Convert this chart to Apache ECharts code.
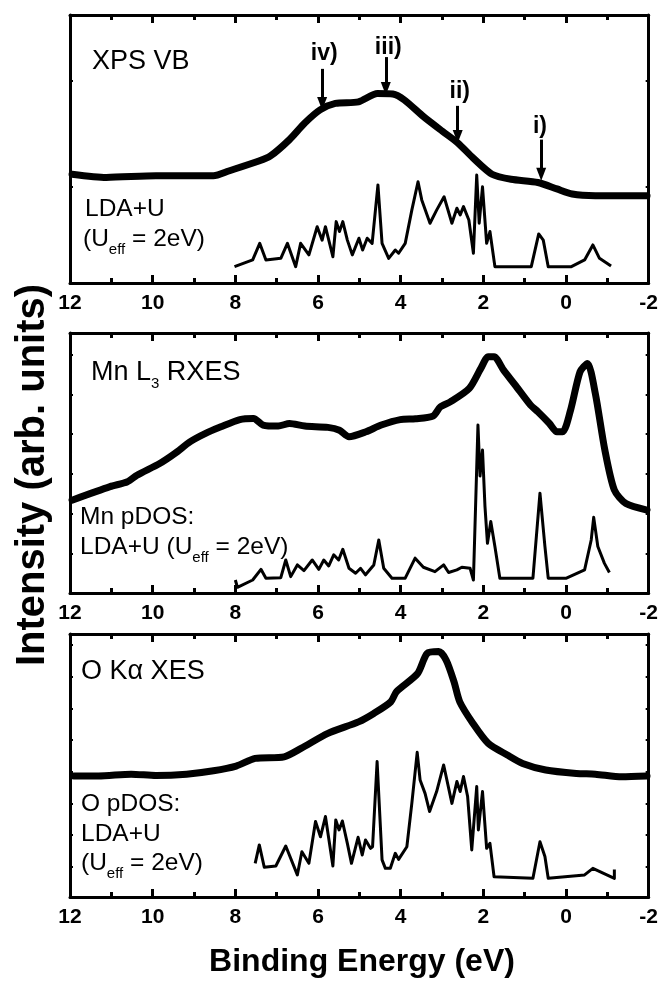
<!DOCTYPE html>
<html><head><meta charset="utf-8">
<script src="https://cdn.jsdelivr.net/npm/echarts@6/dist/echarts.min.js"></script>
<style>html,body{margin:0;padding:0;background:#fff}#c{width:661px;height:982px}</style>
</head><body><div id="c"></div>
<script>
// ---- data: [binding energy (eV), intensity (arb. units)] ----
const xpsVB = [[11.95,40.6],[11.12,39.4],[9.92,40.0],[8.53,40.0],[8.16,41.8],[7.43,45.5],[7.15,47.4],[6.69,53.5],[6.32,59.7],[5.95,64.6],[5.58,67.0],[5.02,67.6],[4.56,70.7],[4.19,70.5],[3.91,68.3],[3.45,62.1],[2.99,56.6],[2.62,52.3],[2.25,46.7],[1.79,40.6],[1.33,38.7],[0.68,37.5],[0.22,35.1],[-0.15,33.2],[-0.71,32.6],[-1.96,32.6]];
const xpsLDAU = [[8.02,6.1],[7.58,8.6],[7.41,14.8],[7.26,8.6],[6.90,9.2],[6.74,14.8],[6.54,6.1],[6.42,14.8],[6.22,10.5],[6.02,21.0],[5.90,16.0],[5.82,21.0],[5.64,9.8],[5.56,22.9],[5.48,19.2],[5.40,22.9],[5.29,16.0],[5.17,10.5],[5.01,16.7],[4.92,12.3],[4.81,16.7],[4.69,14.8],[4.55,36.6],[4.45,14.8],[4.29,9.2],[4.13,12.3],[4.05,11.1],[3.89,14.8],[3.73,27.2],[3.58,37.8],[3.49,31.0],[3.29,22.3],[3.13,27.2],[2.95,32.2],[2.76,22.3],[2.64,27.9],[2.56,25.4],[2.48,28.5],[2.35,23.5],[2.24,11.1],[2.16,40.3],[2.10,22.3],[2.02,35.9],[1.92,14.8],[1.84,19.2],[1.72,6.1],[0.84,6.1],[0.66,18.3],[0.55,16.0],[0.43,6.1],[-0.13,6.1],[-0.45,8.6],[-0.65,14.2],[-0.81,9.2],[-1.09,6.3]];
const mnRXES = [[11.95,35.7],[11.03,40.9],[10.61,42.8],[10.38,45.3],[9.83,49.8],[9.46,53.7],[9.09,58.2],[8.72,61.4],[8.35,63.9],[7.89,66.7],[7.56,67.1],[7.33,64.6],[6.96,64.2],[6.69,65.2],[6.32,64.2],[5.76,63.7],[5.48,62.6],[5.25,60.1],[4.84,62.0],[4.47,64.6],[4.01,66.7],[3.64,67.0],[3.22,68.0],[3.04,71.6],[2.80,73.5],[2.34,78.7],[2.06,86.4],[1.88,90.9],[1.74,90.9],[1.51,85.7],[1.23,80.0],[0.86,72.3],[0.68,69.7],[0.40,65.2],[0.22,62.0],[0.08,62.0],[-0.11,70.3],[-0.34,85.1],[-0.52,88.3],[-0.71,76.7],[-0.94,55.0],[-1.17,39.6],[-1.45,34.4],[-1.96,31.9]];
const mnPDOS = [[8.0,5.0],[7.95,2.2],[7.58,5.0],[7.38,9.1],[7.26,5.7],[6.90,5.9],[6.78,12.7],[6.66,6.3],[6.50,10.8],[6.34,8.6],[6.14,12.7],[5.98,9.1],[5.86,12.7],[5.74,10.4],[5.62,14.7],[5.50,12.7],[5.40,16.8],[5.25,9.5],[5.09,7.6],[4.97,9.5],[4.85,7.0],[4.65,10.8],[4.53,20.4],[4.41,9.5],[4.21,5.7],[3.89,5.7],[3.65,13.4],[3.45,9.9],[3.17,8.2],[2.96,10.8],[2.84,7.9],[2.64,8.9],[2.52,9.9],[2.32,9.5],[2.24,5.0],[2.13,64.6],[2.08,45.0],[2.02,55.0],[1.96,33.2],[1.90,19.1],[1.82,27.5],[1.72,17.9],[1.60,5.7],[0.80,5.7],[0.63,38.4],[0.51,17.9],[0.43,5.7],[-0.01,5.7],[-0.45,8.9],[-0.61,20.4],[-0.67,29.1],[-0.77,17.9],[-0.93,11.4],[-1.05,7.9]];
const oXES = [[11.91,46.0],[11.31,46.0],[10.52,46.7],[9.92,46.2],[9.18,46.7],[8.53,48.0],[7.98,49.8],[7.52,52.7],[6.82,53.3],[6.41,56.5],[5.76,62.2],[5.02,66.6],[4.65,69.8],[4.24,74.2],[4.10,78.1],[3.59,85.0],[3.36,92.6],[3.08,93.3],[2.90,90.1],[2.71,81.9],[2.57,74.2],[2.25,66.0],[1.88,58.4],[1.42,54.0],[1.05,50.8],[0.49,48.3],[-0.25,47.0],[-0.71,46.7],[-1.35,45.7],[-1.96,46.0]];
const oPDOS = [[7.52,12.8],[7.42,19.8],[7.30,11.3],[7.02,11.8],[6.78,19.4],[6.50,8.4],[6.39,17.2],[6.22,12.8],[6.06,28.7],[5.94,22.9],[5.82,30.6],[5.64,11.8],[5.57,29.3],[5.49,25.5],[5.41,28.9],[5.29,20.4],[5.19,12.8],[5.03,22.7],[4.93,16.0],[4.85,21.7],[4.73,18.5],[4.68,19.1],[4.57,51.5],[4.45,14.1],[4.37,10.9],[4.25,10.9],[4.13,16.6],[4.05,14.3],[3.85,19.1],[3.73,35.6],[3.60,55.0],[3.53,44.5],[3.41,39.4],[3.30,32.5],[3.13,40.1],[2.96,50.2],[2.76,35.6],[2.64,43.9],[2.56,40.1],[2.48,45.8],[2.38,38.2],[2.28,17.9],[2.16,42.0],[2.12,25.5],[2.02,40.1],[1.92,18.5],[1.84,20.4],[1.74,7.7],[0.80,7.1],[0.63,21.0],[0.51,15.4],[0.43,7.1],[-0.45,8.4],[-0.65,10.9],[-1.17,7.1],[-1.17,10.5]];
// arrows in the XPS panel
const arrowNames = ['iv)','iii)','ii)','i)'];
const arrowE = [5.90, 4.36, 2.62, 0.60];
const arrowFrom = [79.9, 84.3, 66.1, 53.5];
const arrowTo = [67.0, 72.6, 54.7, 40.6];
const arrowLabelE = [5.85, 4.30, 2.57, 0.63];
const arrowLabelI = [85.5, 87.9, 71.3, 58.4];
// axis ticks
const xMin = -2, xMax = 12, xStep = 2;
const yTicks1 = [35.9, 75.3];
const yTicks2 = [15.2, 30.6, 46.0, 61.4, 76.1, 91.5];
const yTicks3 = [11.5, 23.5, 35.6, 47.6, 59.7, 71.7, 83.8, 95.8];

const FF = '"Liberation Sans", Arial, sans-serif';
const panels = [{top:15,height:268,yt:yTicks1},{top:333,height:260,yt:yTicks2},{top:634,height:263,yt:yTicks3}];

const grid=[], xAxis=[], yAxis=[];
panels.forEach((p,i)=>{
  grid.push({left:70,right:11,top:p.top,height:p.height});
  const xa = (pos,lab)=>({gridIndex:i,type:'value',position:pos,min:xMin,max:xMax,interval:xStep,inverse:true,
    axisLine:{show:true,onZero:false,lineStyle:{color:'#000',width:3}},
    axisTick:{show:true,inside:true,length:8,lineStyle:{color:'#000',width:3}},
    minorTick:{show:true,splitNumber:2,length:5,lineStyle:{color:'#000',width:3}},
    splitLine:{show:false},minorSplitLine:{show:false},
    axisLabel:{show:lab,color:'#000',fontFamily:FF,fontWeight:'bold',fontSize:21,margin:10}});
  xAxis.push(xa('bottom',true)); xAxis.push(xa('top',false));
  const ya = (pos)=>({gridIndex:i,type:'value',position:pos,min:0,max:100,
    axisLine:{show:true,onZero:false,lineStyle:{color:'#000',width:3}},
    axisTick:{show:true,inside:true,length:3,customValues:p.yt,lineStyle:{color:'#000',width:2}},
    axisLabel:{show:false},splitLine:{show:false}});
  yAxis.push(ya('left')); yAxis.push(ya('right'));
});

const thick = (d,i)=>({type:'line',data:d,xAxisIndex:2*i,yAxisIndex:2*i,symbol:'none',smooth:0.25,silent:true,
  lineStyle:{color:'#000',width:7,cap:'round',join:'round'},z:3});
const thin = (d,i)=>({type:'line',data:d,xAxisIndex:2*i,yAxisIndex:2*i,symbol:'none',smooth:false,silent:true,
  lineStyle:{color:'#000',width:3,join:'round'},z:3});

const series = [thick(xpsVB,0),thin(xpsLDAU,0),thick(mnRXES,1),thin(mnPDOS,1),thick(oXES,2),thin(oPDOS,2)];
series.push({type:'line',data:[],xAxisIndex:0,yAxisIndex:0,silent:true,
  markLine:{silent:true,symbol:['none','triangle'],symbolSize:[10,13],label:{show:false},animation:false,
    lineStyle:{color:'#000',width:3,type:'solid'},
    data:arrowE.map((e,k)=>[{coord:[e,arrowFrom[k]]},{coord:[e,arrowTo[k]]}])}});
series.push({type:'line',xAxisIndex:0,yAxisIndex:0,silent:true,data:[],
  markPoint:{silent:true,symbol:'circle',symbolSize:1,itemStyle:{color:'rgba(0,0,0,0)'},animation:false,
    label:{show:true,position:'inside',formatter:'{b}',color:'#000',opacity:1,textBorderWidth:0,fontFamily:FF,fontWeight:'bold',fontSize:23},
    data:arrowNames.map((n,k)=>({name:n,coord:[arrowLabelE[k],arrowLabelI[k]]}))}});

const txt = (x,y,text,size,extra)=>Object.assign({type:'text',x:x,y:y,silent:true,style:Object.assign({text:text,fontFamily:FF,fontSize:size,fill:'#000',align:'left',verticalAlign:'middle',textAlign:'left',textVerticalAlign:'middle'},extra||{})});
const sub = {s:{fontFamily:FF,fontSize:15,verticalAlign:'bottom',lineHeight:36}};
const graphic = [
  txt(92,62,'XPS VB',27),
  txt(85,209,'LDA+U',24.5),
  txt(83,239,'(U{s|eff} = 2eV)',24.5,{rich:sub,lineHeight:36}),
  txt(91,373,'Mn L{s|3} RXES',27,{rich:sub,lineHeight:36}),
  txt(80,517,'Mn pDOS:',24.5),
  txt(80,547,'LDA+U (U{s|eff} = 2eV)',24.5,{rich:sub,lineHeight:36}),
  txt(81,672,'O K\u03B1 XES',27),
  txt(81,804,'O pDOS:',24.5),
  txt(81,834,'LDA+U',24.5),
  txt(81,863,'(U{s|eff} = 2eV)',24.5,{rich:sub,lineHeight:36}),
  {type:'text',x:33,y:475,rotation:Math.PI/2,silent:true,style:{text:'Intensity (arb. units)',fontFamily:FF,fontWeight:'bold',fontSize:40,fill:'#000',align:'center',verticalAlign:'middle',textAlign:'center',textVerticalAlign:'middle'}},
  {type:'text',x:362,y:962,silent:true,style:{text:'Binding Energy (eV)',fontFamily:FF,fontWeight:'bold',fontSize:32,fill:'#000',align:'center',verticalAlign:'middle',textAlign:'center',textVerticalAlign:'middle'}}
];

const chart = echarts.init(document.getElementById('c'),null,{renderer:'canvas'});
chart.setOption({animation:false,backgroundColor:'#fff',grid,xAxis,yAxis,series,graphic});
</script></body></html>
